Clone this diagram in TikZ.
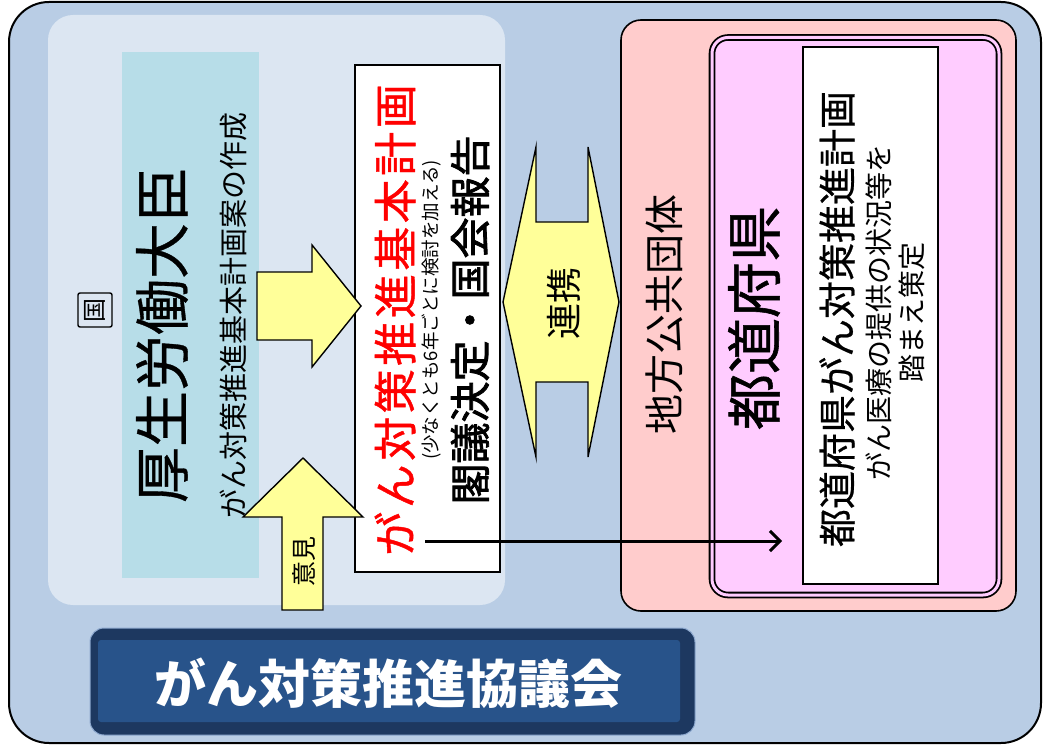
\documentclass[tikz,border=0pt]{standalone}
\usepackage{fontspec}
\newfontfamily\jp{Noto Sans CJK JP}
\usetikzlibrary{arrows.meta}
\definecolor{bgblue}{HTML}{B9CDE5}
\definecolor{panelblue}{HTML}{DCE6F2}
\definecolor{minblue}{HTML}{B7DDE8}
\definecolor{pinkbox}{HTML}{FFCCCC}
\definecolor{magbox}{HTML}{FFCCFF}
\definecolor{arrowyellow}{HTML}{FFFF99}
\definecolor{councildark}{HTML}{1D3860}
\definecolor{councilblue}{HTML}{28538A}
\definecolor{councilrim}{HTML}{8FAAD0}
\tikzset{
  plainbox/.style={rectangle, inner sep=0pt, outer sep=0pt},
  vtext/.style={rotate=90, inner sep=0pt, text=black},
  yarrow/.style={fill=arrowyellow, draw=black, line width=1.4pt, line join=miter},
  fs/.style={font=\jp\fontsize{#1}{#1}\selectfont},
  fsb/.style={font=\jp\bfseries\fontsize{#1}{#1}\selectfont},
}
\begin{document}
\begin{tikzpicture}[x=1pt,y=-1pt]
\useasboundingbox (0,0) rectangle (1043,751);
% outer frame
\node[plainbox, draw=black, line width=2pt, fill=bgblue, rounded corners=40pt,
      minimum width=1032pt, minimum height=741pt] (frame) at (525,372.5) {};
% national panel
\node[plainbox, fill=panelblue, rounded corners=25pt,
      minimum width=457pt, minimum height=590pt] (nation) at (276.5,310) {};
\node[plainbox, draw=black, line width=1.4pt, rounded corners=2pt, rotate=90,
      minimum size=34pt, fs=24] (kuni) at (95,310) {国};
% minister box
\node[plainbox, fill=minblue, minimum width=137pt, minimum height=526pt] (minister) at (190.5,315) {};
\node[vtext, fs=56] (minname) at (162,335) {\addfontfeatures{FakeBold=0.6}厚生労働大臣};
\node[vtext, fs=29] (mindraft) at (233,315) {がん対策推進基本計画案の作成};
% white plan box
\node[plainbox, draw=black, line width=1.4pt, fill=white,
      minimum width=145pt, minimum height=507pt] (plan) at (427.5,318.5) {};
\node[vtext, text=red, fs=44] (plantitle) at (395,320)
  {\addfontfeatures{LetterSpace=8,FakeBold=1}がん対策推進基本計画};
\node[vtext, fs=18.5] (plannote) at (431,310) {(少なくとも6年ごとに検討を加える)};
\node[vtext, fs=41] (plandecide) at (470,320) {\addfontfeatures{FakeBold=2}閣議決定・国会報告};
% block arrow minister -> plan
\draw[yarrow] (257,272) -- (312,272) -- (312,245) -- (361,306) -- (312,367) -- (312,340) -- (257,340) -- cycle;
% opinion arrow
\draw[yarrow] (282,610) -- (282,517) -- (243,517) -- (303,458) -- (363,517) -- (323,517) -- (323,610) -- cycle;
\node[vtext, fs=25] (iken) at (304,561) {意見};
% cooperation double arrow
\draw[yarrow] (536,147) -- (536,222) -- (588,222) -- (588,147) -- (619,302) -- (588,457) -- (588,382)
  -- (536,382) -- (536,457) -- (503,302) -- cycle;
\node[vtext, fs=36] (renkei) at (564,303) {連携};
% local government box
\node[plainbox, draw=black, line width=1.6pt, fill=pinkbox, rounded corners=20pt,
      minimum width=395pt, minimum height=591pt] (local) at (818.5,315.5) {};
\node[vtext, fs=40] (localname) at (664,314) {地方公共団体};
\node[plainbox, draw=black, double=magbox, double distance=3pt, line width=1.8pt, fill=magbox,
      rounded corners=16pt, minimum width=287pt, minimum height=557.5pt] (pref) at (855.5,316.25) {};
\node[vtext, fs=56] (prefname) at (754,318) {\addfontfeatures{FakeBold=1}都道府県};
\node[plainbox, draw=black, line width=1.4pt, fill=white,
      minimum width=135pt, minimum height=537pt] (prefplan) at (870.5,315.5) {};
\node[vtext, fs=38] (prefplan1) at (837,319) {\addfontfeatures{FakeBold=0.6}都道府県がん対策推進計画};
\node[vtext, fs=28] (prefplan2) at (879,312) {がん医療の提供の状況等を};
\node[vtext, fs=28] (prefplan3) at (912,312) {踏まえ策定};
% connector
\coordinate (cfrom) at (425,541);
\coordinate (cto) at (782,541);
\draw[line width=3pt, -{Straight Barb[length=10pt,width=20pt,line width=3pt]}] (cfrom) -- (cto);
% council box
\node[plainbox, draw=councilrim, line width=1pt, fill=councildark, rounded corners=14pt,
      minimum width=605pt, minimum height=107pt] (council) at (392.5,681.5) {};
\node[plainbox, fill=councilblue, rounded corners=3pt,
      minimum width=582pt, minimum height=82pt] (councilin) at (389,681) {};
\node[inner sep=0pt, text=white, fsb=52] (councilname) at (388,683) {がん対策推進協議会};
\end{tikzpicture}
\end{document}
